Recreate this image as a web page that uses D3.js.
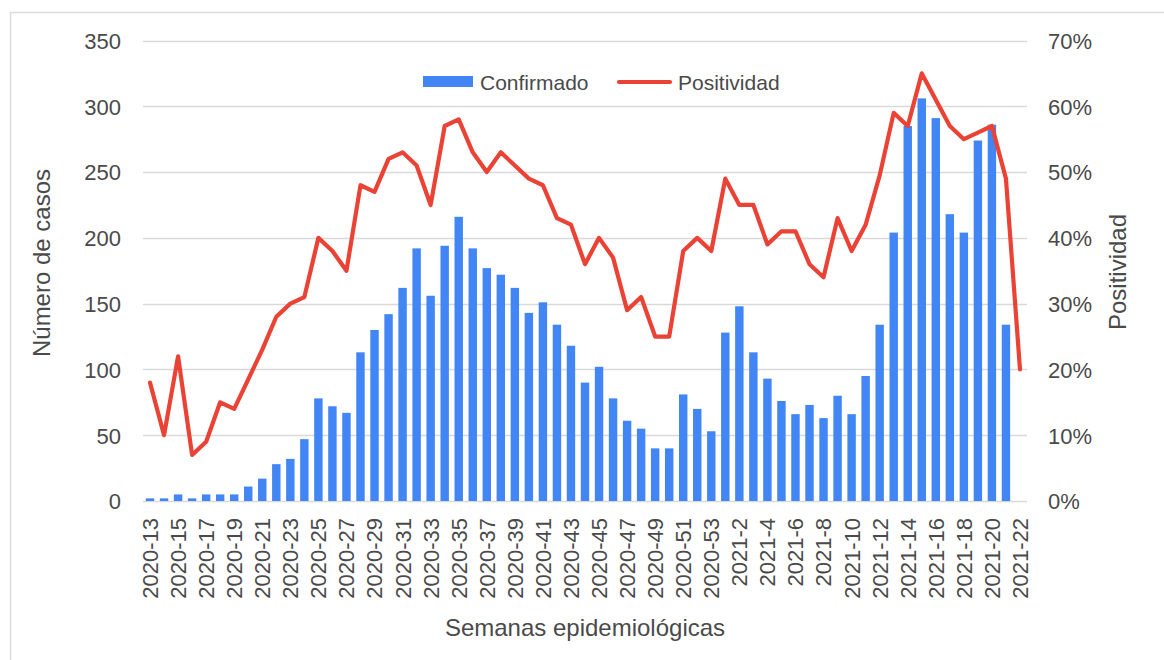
<!DOCTYPE html>
<html>
<head>
<meta charset="utf-8">
<script src="https://cdn.jsdelivr.net/npm/d3@7"></script>
<style>
  html, body { margin: 0; padding: 0; background: #fff; }
  svg { display: block; }
  text { font-family: "Liberation Sans", Arial, sans-serif; fill: #4a4a4a; }
</style>
</head>
<body>
<svg id="chart" width="1164" height="660"></svg>
<script>
const categories = [
  "2020-13","2020-14","2020-15","2020-16","2020-17","2020-18","2020-19","2020-20","2020-21","2020-22",
  "2020-23","2020-24","2020-25","2020-26","2020-27","2020-28","2020-29","2020-30","2020-31","2020-32",
  "2020-33","2020-34","2020-35","2020-36","2020-37","2020-38","2020-39","2020-40","2020-41","2020-42",
  "2020-43","2020-44","2020-45","2020-46","2020-47","2020-48","2020-49","2020-50","2020-51","2020-52",
  "2020-53","2021-1","2021-2","2021-3","2021-4","2021-5","2021-6","2021-7","2021-8","2021-9",
  "2021-10","2021-11","2021-12","2021-13","2021-14","2021-15","2021-16","2021-17","2021-18","2021-19",
  "2021-20","2021-21","2021-22"
];
const confirmado = [
  2,2,5,2,5,5,5,11,17,28,
  32,47,78,72,67,113,130,142,162,192,
  156,194,216,192,177,172,162,143,151,134,
  118,90,102,78,61,55,40,40,81,70,
  53,128,148,113,93,76,66,73,63,80,
  66,95,134,204,285,306,291,218,204,274,
  286,134,null
];
const positividad = [
  18,10,22,7,9,15,14,18.5,23,28,
  30,31,40,38,35,48,47,52,53,51,
  45,57,58,53,50,53,51,49,48,43,
  42,36,40,37,29,31,25,25,38,40,
  38,49,45,45,39,41,41,36,34,43,
  38,42,49.5,59,57,65,61,57,55,56,
  57,49,20
];
const leftTicks = [0,50,100,150,200,250,300,350];
const rightTicks = [0,10,20,30,40,50,60,70];
const legendLabels = ["Confirmado","Positividad"];
const xTitle = "Semanas epidemiológicas";
const yTitleLeft = "Número de casos";
const yTitleRight = "Positividad";

const blue = "#4285f4", red = "#ea4335", grid = "#d9d9d9";
const L = 143, R = 1027, T = 40.5, B = 501;

const svg = d3.select("#chart");

// outer frame
svg.append("rect").attr("x", 10.5).attr("y", 12.5).attr("width", 1170).attr("height", 700)
  .attr("fill", "none").attr("stroke", "#dcdcdc").attr("stroke-width", 1.5);

const x = d3.scaleBand().domain(categories).range([L, R]).paddingInner(0.4).paddingOuter(0.2);
const y = d3.scaleLinear().domain([0, 350]).range([B, T]);
const y2 = d3.scaleLinear().domain([0, 70]).range([B, T]);

// gridlines
svg.append("g").selectAll("line").data(leftTicks).join("line")
  .attr("x1", L).attr("x2", R)
  .attr("y1", d => Math.round(y(d)) + 0.5).attr("y2", d => Math.round(y(d)) + 0.5)
  .attr("stroke", grid).attr("stroke-width", 1.3);

// left axis
const leftAxis = d3.axisLeft(y).tickValues(leftTicks).tickSize(0).tickPadding(0).tickFormat(d3.format("d"));
const gl = svg.append("g").attr("transform", `translate(121,0)`).call(leftAxis);
gl.select(".domain").remove();
gl.selectAll("text").attr("font-size", 22).attr("fill", "#4a4a4a")
  .style("font-family", '"Liberation Sans", Arial, sans-serif').attr("dy", "0.36em");

// right axis
const rightAxis = d3.axisRight(y2).tickValues(rightTicks).tickSize(0).tickPadding(0).tickFormat(d => d + "%");
const gr = svg.append("g").attr("transform", `translate(1048,0)`).call(rightAxis);
gr.select(".domain").remove();
gr.selectAll("text").attr("font-size", 22).attr("fill", "#4a4a4a")
  .style("font-family", '"Liberation Sans", Arial, sans-serif').attr("dy", "0.36em");

// bars
svg.append("g").selectAll("rect")
  .data(categories.map((c, i) => ({c, v: confirmado[i]})).filter(d => d.v != null))
  .join("rect")
  .attr("x", d => x(d.c)).attr("width", x.bandwidth())
  .attr("y", d => y(d.v)).attr("height", d => B - y(d.v))
  .attr("fill", blue);

// line
const line = d3.line()
  .x((d, i) => x(categories[i]) + x.bandwidth() / 2)
  .y(d => y2(d));
svg.append("path").datum(positividad).attr("d", line)
  .attr("fill", "none").attr("stroke", red).attr("stroke-width", 4.2)
  .attr("stroke-linejoin", "round").attr("stroke-linecap", "round");

// x axis labels (every other category)
const xAxis = d3.axisBottom(x).tickValues(categories.filter((c, i) => i % 2 === 0)).tickSize(0).tickPadding(0);
const gx = svg.append("g").attr("transform", `translate(0,518)`).call(xAxis);
gx.select(".domain").remove();
gx.selectAll("text").attr("font-size", 22).attr("fill", "#4a4a4a")
  .style("font-family", '"Liberation Sans", Arial, sans-serif')
  .attr("text-anchor", "end").attr("transform", "rotate(-90)")
  .attr("x", 0).attr("y", 0).attr("dy", "0.36em");

// axis titles
svg.append("text").attr("x", 585).attr("y", 636).attr("text-anchor", "middle")
  .attr("font-size", 24).text(xTitle);
svg.append("text").attr("transform", "translate(50,263) rotate(-90)").attr("text-anchor", "middle")
  .attr("font-size", 24).text(yTitleLeft);
svg.append("text").attr("transform", "translate(1126,272) rotate(-90)").attr("text-anchor", "middle")
  .attr("font-size", 24).text(yTitleRight);

// legend
const lg = svg.append("g");
lg.append("rect").attr("x", 423).attr("y", 76).attr("width", 50).attr("height", 11).attr("fill", blue);
lg.append("text").attr("x", 480).attr("y", 90).attr("font-size", 21).text(legendLabels[0]);
lg.append("line").attr("x1", 619).attr("x2", 670).attr("y1", 82).attr("y2", 82)
  .attr("stroke", red).attr("stroke-width", 4.2).attr("stroke-linecap", "round");
lg.append("text").attr("x", 678).attr("y", 90).attr("font-size", 21).text(legendLabels[1]);
</script>
</body>
</html>
